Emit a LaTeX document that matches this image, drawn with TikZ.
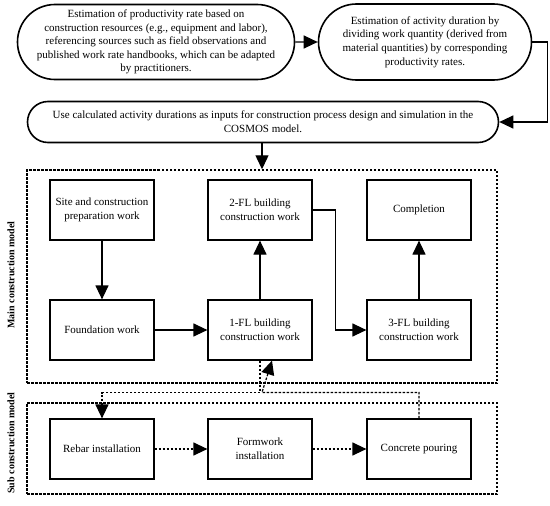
\documentclass[tikz,border=0pt]{standalone}
\usepackage{fontspec}
\setmainfont{Liberation Serif}
\usetikzlibrary{arrows.meta, positioning, shapes.misc}
\tikzset{
  every picture/.style={font=\fontsize{11}{13.6}\selectfont, line width=1.2pt},
  pill/.style={draw, rounded rectangle, line width=1.6pt, align=center, inner sep=1pt},
  task/.style={draw, align=center, minimum width=104pt, minimum height=60pt, inner sep=2pt},
  frame/.style={draw, dash pattern=on 2.5pt off 1.5pt, line width=1.4pt, minimum width=470pt},
  arrow/.style={-{Triangle[length=14pt, width=13pt]}},
  darrow/.style={arrow, dash pattern=on 2.5pt off 1.5pt},
  side/.style={font=\fontsize{10}{12}\selectfont\bfseries, rotate=90},
}
\begin{document}
\begin{tikzpicture}[x=1pt, y=-1pt]
  \useasboundingbox (0,0) rectangle (550,506);
  % estimation steps
  \node[pill, minimum width=247pt, minimum height=75pt] (rate) at (156,42)
    {Estimation of productivity rate based on\\construction resources (e.g., equipment and labor),\\referencing sources such as field observations and\\published work rate handbooks, which can be adapted\\by practitioners.};
  \node[pill, minimum width=215pt, minimum height=76pt] (dur) at (425,42)
    {Estimation of activity duration by\\dividing work quantity (derived from\\material quantities) by corresponding\\productivity rates.};
  \node[pill, minimum width=473pt, minimum height=41pt] (use) at (263,122)
    {Use calculated activity durations as inputs for construction process design and simulation in the\\COSMOS model.};
  % model frames
  \node[frame, minimum height=213pt] (main) at (262,276.5) {};
  \node[frame, minimum height=91pt] (sub) at (262,448.5) {};
  \node[side] (mainlbl) at (11,275) {Main construction model};
  \node[side] (sublbl) at (11,443) {Sub construction model};
  % main construction model
  \node[task] (site) at (102,210) {Site and construction\\preparation work};
  \node[task] (fl2) at (260,210) {2-FL building\\construction work};
  \node[task] (done) at (419,210) {Completion};
  \node[task] (found) at (102,330) {Foundation work};
  \node[task] (fl1) at (260,330) {1-FL building\\construction work};
  \node[task] (fl3) at (419,330) {3-FL building\\construction work};
  % sub construction model
  \node[task] (rebar) at (102,449) {Rebar installation};
  \node[task] (form) at (260,449) {Formwork\\installation};
  \node[task] (pour) at (419,449) {Concrete pouring};
  % connectors
  \draw[arrow] (rate) -- (dur);
  \draw[arrow] (dur.east) -- ++(15,0) |- (use.east);
  \draw[arrow] (use.south -| main.north) -- (main.north);
  \draw[arrow] (site) -- (found);
  \draw[arrow] (found) -- (fl1);
  \draw[arrow] (fl1) -- (fl2);
  \draw[arrow] (fl2.east) -- ++(23,0) |- (fl3.west);
  \draw[arrow] (fl3) -- (done);
  \draw[darrow] (fl1.south) -- ++(0,32) -| (rebar.north);
  \draw[darrow] (pour.north) |- ++(-157,-26) -- ([xshift=12pt]fl1.south);
  \draw[darrow] (rebar) -- (form);
  \draw[darrow] (form) -- (pour);
\end{tikzpicture}
\end{document}
